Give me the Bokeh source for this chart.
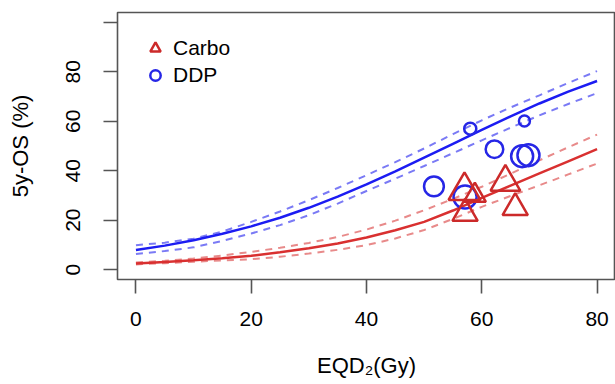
from bokeh.plotting import figure
from bokeh.models import Range1d, FixedTicker, Legend, LegendItem, ColumnDataSource
from bokeh.embed import file_html
from bokeh.resources import INLINE

# ---- data ----
eqd_grid = [0, 5, 10, 15, 20, 25, 30, 35, 40, 45, 50, 55, 60, 65, 70, 75, 80]

ddp_fit   = [7.9, 9.7, 11.9, 14.5, 17.5, 21.0, 25.0, 29.5, 34.5, 39.7, 45.3, 50.9, 56.5, 62.0, 67.2, 72.0, 76.3]
ddp_upper = [9.9, 10.9, 12.5, 15.4, 19.3, 23.5, 28.1, 33.0, 38.2, 43.5, 49.0, 54.8, 60.4, 65.6, 70.5, 75.5, 80.3]
ddp_lower = [6.3, 7.5, 9.0, 11.6, 14.6, 18.0, 22.0, 26.7, 31.8, 36.8, 41.9, 47.1, 52.3, 57.4, 62.4, 67.0, 71.4]

carbo_fit   = [2.5, 3.1, 3.8, 4.6, 5.6, 7.0, 8.6, 10.6, 13.0, 15.9, 19.3, 23.9, 29.0, 34.0, 38.9, 43.8, 48.7]
carbo_upper = [2.9, 3.6, 4.5, 5.7, 7.2, 8.8, 10.8, 13.2, 16.2, 19.8, 24.0, 28.6, 33.5, 38.8, 44.2, 49.5, 54.6]
carbo_lower = [2.1, 2.6, 3.2, 3.7, 4.2, 5.2, 6.5, 8.0, 9.9, 12.6, 16.0, 20.5, 25.4, 29.8, 34.1, 38.5, 42.9]

ddp_x      = [58.0, 67.4, 62.2, 67.0, 68.1, 51.7, 57.1]
ddp_y      = [57.0, 60.1, 48.7, 45.9, 46.3, 33.7, 29.4]
ddp_weight = [1.1, 1.0, 1.6, 2.0, 2.0, 1.8, 2.1]

carbo_x      = [57.0, 58.8, 57.1, 64.1, 65.8]
carbo_y      = [31.9, 30.0, 22.7, 35.4, 25.0]
carbo_weight = [2.9, 2.0, 2.3, 2.7, 2.3]

x_ticks = [0, 20, 40, 60, 80]
y_ticks = [0, 20, 40, 60, 80, 100]
series_names = ["Carbo", "DDP"]

FONT = "Liberation Sans"
BLUE = "#1c1cf2"
BLUE_LIGHT = "#7a7af5"
RED = "#d93030"
RED_LIGHT = "#e88a8a"
RED_MARK = "#cc2a2a"
BLUE_MARK = "#2626e6"

p = figure(width=615, height=384, output_backend="svg", toolbar_location=None,
           x_range=Range1d(-3.2, 83.2), y_range=Range1d(-4, 104),
           min_border_left=117, min_border_right=0, min_border_top=12, min_border_bottom=105)
p.xgrid.visible = False
p.ygrid.visible = False
p.outline_line_color = "#555555"
p.outline_line_width = 1.6
p.background_fill_color = "white"
p.border_fill_color = "white"

# fitted curves
p.line(eqd_grid, ddp_upper, line_color=BLUE_LIGHT, line_width=2, line_dash="7 6")
p.line(eqd_grid, ddp_lower, line_color=BLUE_LIGHT, line_width=2, line_dash="7 6")
p.line(eqd_grid, ddp_fit, line_color=BLUE, line_width=2.5)
p.line(eqd_grid, carbo_upper, line_color=RED_LIGHT, line_width=2, line_dash="7 6")
p.line(eqd_grid, carbo_lower, line_color=RED_LIGHT, line_width=2, line_dash="7 6")
p.line(eqd_grid, carbo_fit, line_color=RED, line_width=2.5)

# study points
ddp_src = ColumnDataSource(dict(x=ddp_x, y=ddp_y, s=[11 * w for w in ddp_weight]))
carbo_src = ColumnDataSource(dict(x=carbo_x, y=carbo_y, s=[11 * w for w in carbo_weight]))
r_ddp = p.scatter("x", "y", size="s", source=ddp_src, marker="circle", fill_color=None,
                  line_color=BLUE_MARK, line_width=2.5)
r_carbo = p.scatter("x", "y", size="s", source=carbo_src, marker="triangle", fill_color=None,
                    line_color=RED_MARK, line_width=2.5)

legend = Legend(items=[LegendItem(label=series_names[0], renderers=[r_carbo], index=0),
                       LegendItem(label=series_names[1], renderers=[r_ddp], index=0)],
                location="top_left", margin=23, padding=10, spacing=1,
                glyph_width=30, glyph_height=26, label_standoff=3,
                label_text_font=FONT, label_text_font_size="21px", label_text_color="black",
                border_line_color=None, background_fill_alpha=0)
p.add_layout(legend)

for ax in (p.xaxis[0], p.yaxis[0]):
    ax.axis_line_color = None
    ax.major_tick_out = 14
    ax.major_tick_in = 0
    ax.major_tick_line_color = "#555555"
    ax.major_tick_line_width = 1.6
    ax.minor_tick_line_color = None
    ax.major_label_text_font = FONT
    ax.major_label_text_font_size = "21px"
    ax.major_label_text_color = "black"
    ax.axis_label_text_font = FONT
    ax.axis_label_text_font_size = "22px"
    ax.axis_label_text_font_style = "normal"
    ax.axis_label_text_color = "black"

p.xaxis.ticker = FixedTicker(ticks=x_ticks)
p.yaxis.ticker = FixedTicker(ticks=y_ticks)
p.yaxis.major_label_overrides = {100: ""}
p.yaxis.major_label_orientation = "vertical"
p.xaxis.axis_label = "EQD\u2082(Gy)"
p.yaxis.axis_label = "5y-OS (%)"
p.xaxis.major_label_standoff = 18
p.xaxis.axis_label_standoff = 24
p.yaxis.major_label_standoff = 23
p.yaxis.axis_label_standoff = 31

open("out.html", "w").write(file_html(p, INLINE))
